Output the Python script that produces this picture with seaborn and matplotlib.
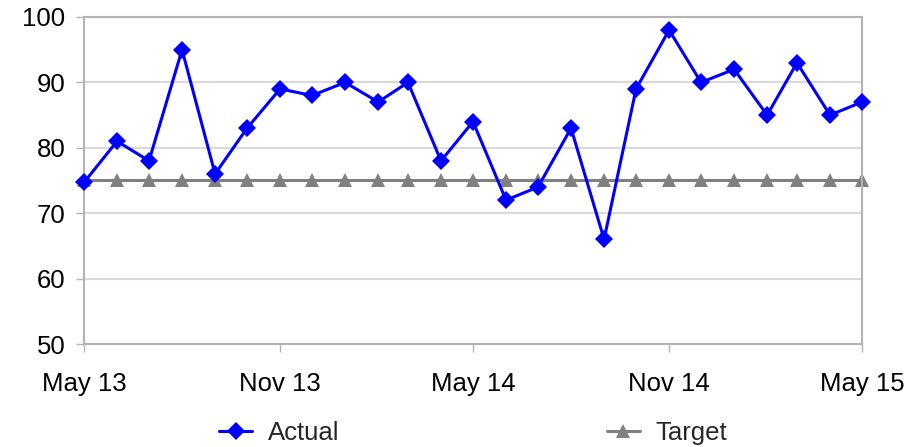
import matplotlib
matplotlib.use("Agg")
import matplotlib.pyplot as plt
import matplotlib.dates as mdates
import pandas as pd
import seaborn as sns

# monthly data, May 2013 - May 2015
months = pd.date_range("2013-05-01", "2015-05-01", freq="MS")
actual = [74.7, 81, 78, 95, 76, 83, 89, 88, 90, 87, 90, 78, 84,
          72, 74, 83, 66, 89, 98, 90, 92, 85, 93, 85, 87]
target = [75] * len(months)

df = pd.DataFrame({"month": months, "Actual": actual, "Target": target})

sns.set_style("white")
plt.rcParams["font.family"] = ["Liberation Sans", "DejaVu Sans"]
FS = 18.5

fig = plt.figure(figsize=(9.24, 4.47), dpi=100)
ax = fig.add_axes([84 / 924, 103 / 447, 778 / 924, 327 / 447])

sns.lineplot(data=df, x="month", y="Target", ax=ax, color="#808080",
             linewidth=2.2, marker="^", markersize=9.5, markeredgewidth=0,
             label="Target", zorder=2, clip_on=False)
sns.lineplot(data=df, x="month", y="Actual", ax=ax, color="#0000FF",
             linewidth=2.2, marker="D", markersize=9.5, markeredgewidth=0,
             label="Actual", zorder=3, clip_on=False)

ax.set_xlim(months[0], months[-1])
ax.set_ylim(50, 100)
ax.set_yticks(range(50, 101, 10))
ax.xaxis.set_major_locator(mdates.MonthLocator(bymonth=[5, 11]))
ax.xaxis.set_major_formatter(mdates.DateFormatter("%b %y"))
ax.set_xlabel("")
ax.set_ylabel("")

ax.grid(axis="y", color="#d9d9d9", linewidth=1.5)
ax.set_axisbelow(True)
for s in ax.spines.values():
    s.set_color("#b3b3b3")
    s.set_linewidth(1.5)
ax.tick_params(axis="both", direction="out", length=5.5, width=1,
               color="#b3b3b3", labelsize=FS, labelcolor="black",
               bottom=True, left=True)
ax.tick_params(axis="y", pad=8)
ax.tick_params(axis="x", pad=15)

handles, labels = ax.get_legend_handles_labels()
ax.get_legend().remove()
order = [labels.index("Actual"), labels.index("Target")]
fig.legend([handles[i] for i in order], [labels[i] for i in order],
           loc="lower center", bbox_to_anchor=(473 / 924, -0.047), ncol=2,
           frameon=False, fontsize=FS, handlelength=1.3, handletextpad=0.6,
           columnspacing=10.4)

fig.savefig("out.png", dpi=100)
